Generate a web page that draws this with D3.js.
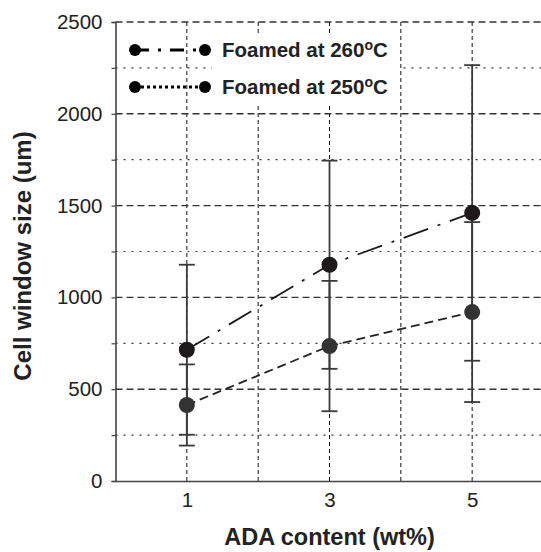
<!DOCTYPE html>
<html>
<head>
<meta charset="utf-8">
<script src="https://cdn.jsdelivr.net/npm/d3@7"></script>
<style>
  html, body { margin: 0; padding: 0; background: #fff; }
  svg { display: block; font-family: Arial, "Liberation Sans", sans-serif; }
</style>
</head>
<body>
<svg id="chart" width="541" height="552"></svg>
<script>
// ---- data ----
const categories = [1, 3, 5];
const series260 = [715, 1178, 1460];
const err260 = [463, 567, 805];
const series250 = [414, 735, 920];
const err250 = [221, 355, 490];
const yTicks = [0, 500, 1000, 1500, 2000, 2500];
const yMinorTicks = [250, 750, 1250, 1750, 2250];
const xGrid = [1, 2, 3, 4, 5];
const legendLabels = ["Foamed at 260", "Foamed at 250"];

const svg = d3.select("#chart");
const x = d3.scaleLinear().domain([0, 6]).range([115.5, 543.5]);
const y = d3.scaleLinear().domain([0, 2500]).range([481, 22]);

// ---- grid ----
const grid = svg.append("g");
grid.selectAll(".vg").data(xGrid).join("line")
  .attr("x1", d => x(d)).attr("x2", d => x(d))
  .attr("y1", y(2500)).attr("y2", y(0))
  .attr("stroke", "#111").attr("stroke-width", 1).attr("stroke-dasharray", "4,3");
grid.selectAll(".hm").data(yMinorTicks).join("line")
  .attr("x1", x(0)).attr("x2", 541)
  .attr("y1", d => y(d)).attr("y2", d => y(d))
  .attr("stroke", "#333").attr("stroke-width", 1.2).attr("stroke-dasharray", "2,6");
grid.selectAll(".hM").data(yTicks.filter(d => d > 0)).join("line")
  .attr("x1", x(0)).attr("x2", 541)
  .attr("y1", d => y(d)).attr("y2", d => y(d))
  .attr("stroke", "#333").attr("stroke-width", 1.4).attr("stroke-dasharray", "7,4");

// ---- legend background (covers grid behind the text) ----
svg.append("rect").attr("x", 212).attr("y", 35).attr("width", 186).attr("height", 68).attr("fill", "#fff");

// ---- axes ----
const yAxis = d3.axisLeft(y).tickValues(d3.range(0, 2501, 250)).tickSize(4)
  .tickFormat(d => yTicks.includes(d) ? d : "");
const gy = svg.append("g").attr("transform", `translate(${x(0)},0)`).call(yAxis);
gy.select(".domain").attr("stroke", "#444").attr("stroke-width", 1.6);
gy.selectAll(".tick line").attr("stroke", "#444").attr("stroke-width", 1.2);
gy.selectAll(".tick text").attr("font-size", 20.5).attr("fill", "#222")
  .attr("font-family", "Arial, 'Liberation Sans', sans-serif").attr("x", -13);

const xAxis = d3.axisBottom(x).tickValues(categories).tickSize(0).tickFormat(d3.format("d"));
const gx = svg.append("g").attr("transform", `translate(0,${y(0)})`).call(xAxis);
gx.select(".domain").attr("stroke", "#444").attr("stroke-width", 1.6);
gx.selectAll(".tick text").attr("font-size", 20.5).attr("fill", "#222")
  .attr("font-family", "Arial, 'Liberation Sans', sans-serif").attr("y", 11);

// axis titles
svg.append("text").attr("x", x(3)).attr("y", 545).attr("text-anchor", "middle")
  .attr("font-size", 23.5).attr("font-weight", "bold").attr("fill", "#222")
  .text("ADA content (wt%)");
svg.append("text").attr("transform", "translate(31,256) rotate(-90)").attr("text-anchor", "middle")
  .attr("font-size", 24).attr("font-weight", "bold").attr("fill", "#222")
  .text("Cell window size (um)");

// ---- series ----
const pts260 = categories.map((c, i) => ({ c, v: series260[i], e: err260[i] }));
const pts250 = categories.map((c, i) => ({ c, v: series250[i], e: err250[i] }));

function errorBars(data, color) {
  const g = svg.append("g");
  g.selectAll(".eb").data(data).join("line")
    .attr("x1", d => x(d.c)).attr("x2", d => x(d.c))
    .attr("y1", d => y(d.v - d.e)).attr("y2", d => y(d.v + d.e))
    .attr("stroke", color).attr("stroke-width", 1.8);
  g.selectAll(".cu").data(data).join("line")
    .attr("x1", d => x(d.c) - 8).attr("x2", d => x(d.c) + 8)
    .attr("y1", d => y(d.v + d.e)).attr("y2", d => y(d.v + d.e))
    .attr("stroke", color).attr("stroke-width", 1.8);
  g.selectAll(".cl").data(data).join("line")
    .attr("x1", d => x(d.c) - 8).attr("x2", d => x(d.c) + 8)
    .attr("y1", d => y(d.v - d.e)).attr("y2", d => y(d.v - d.e))
    .attr("stroke", color).attr("stroke-width", 1.8);
}
errorBars(pts250, "#3a3a3a");
errorBars(pts260, "#3a3a3a");

const line = d3.line().x(d => x(d.c)).y(d => y(d.v));
svg.append("path").datum(pts250).attr("d", line).attr("fill", "none")
  .attr("stroke", "#222").attr("stroke-width", 1.8).attr("stroke-dasharray", "9,5");
svg.append("path").datum(pts260).attr("d", line).attr("fill", "none")
  .attr("stroke", "#1e1a1b").attr("stroke-width", 1.8).attr("stroke-dasharray", "26,10,3,10");

svg.append("g").selectAll("circle").data(pts250).join("circle")
  .attr("cx", d => x(d.c)).attr("cy", d => y(d.v)).attr("r", 8).attr("fill", "#333");
svg.append("g").selectAll("circle").data(pts260).join("circle")
  .attr("cx", d => x(d.c)).attr("cy", d => y(d.v)).attr("r", 8).attr("fill", "#1e1a1b");

// ---- legend ----
const legendRows = [
  { label: legendLabels[0], dash: "14,9,3,9", y: 50 },
  { label: legendLabels[1], dash: "3,3", y: 87 }
];
const lg = svg.append("g");
legendRows.forEach(r => {
  lg.append("line").attr("x1", 135).attr("x2", 205).attr("y1", r.y).attr("y2", r.y)
    .attr("stroke", "#000").attr("stroke-width", 3.2).attr("stroke-dasharray", r.dash);
  lg.append("circle").attr("cx", 135).attr("cy", r.y).attr("r", 6).attr("fill", "#000");
  lg.append("circle").attr("cx", 205).attr("cy", r.y).attr("r", 6).attr("fill", "#000");
  const t = lg.append("text").attr("x", 222).attr("y", r.y + 7)
    .attr("font-size", 20.5).attr("font-weight", "bold").attr("fill", "#222");
  t.append("tspan").text(r.label);
  t.append("tspan").attr("font-size", 14).attr("dy", -7).text("o");
  t.append("tspan").attr("dy", 7).text("C");
});
</script>
</body>
</html>
